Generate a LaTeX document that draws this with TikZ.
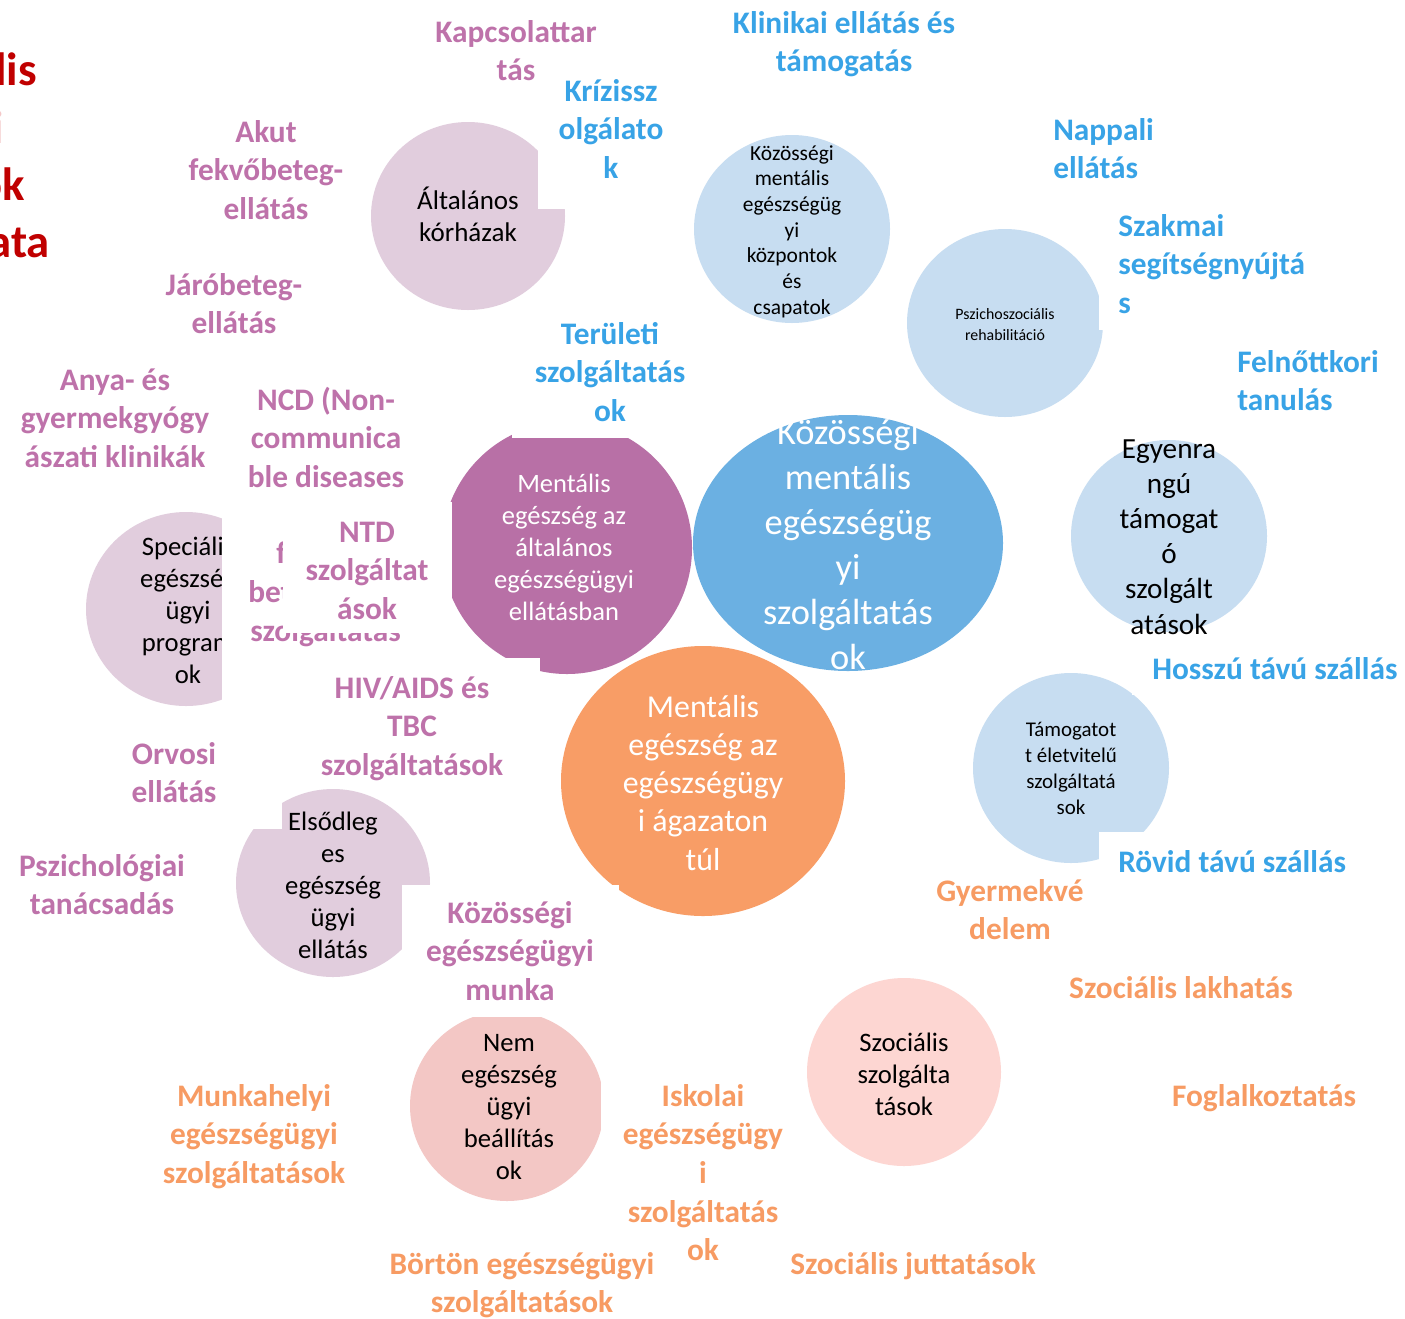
\documentclass[tikz,border=0pt]{standalone}
\usepackage{fontspec}
\setmainfont{Carlito}
\usetikzlibrary{shapes.geometric}

\definecolor{mauve}{RGB}{225,205,221}
\definecolor{paleblue}{RGB}{199,221,241}
\definecolor{plum}{RGB}{184,112,166}
\definecolor{skyblue}{RGB}{107,176,226}
\definecolor{apricot}{RGB}{248,157,102}
\definecolor{rosy}{RGB}{243,199,197}
\definecolor{blush}{RGB}{253,214,210}
\definecolor{txtplum}{RGB}{190,114,170}
\definecolor{txtblue}{RGB}{56,163,230}
\definecolor{txtorange}{RGB}{247,155,99}
\definecolor{deepred}{RGB}{192,0,0}
\definecolor{palered}{RGB}{244,200,200}

% centred / left-aligned stacks whose baseline is the first line
\newcommand{\cstack}[1]{\begin{tabular}[t]{@{}c@{}}#1\end{tabular}}
\newcommand{\lstack}[1]{\begin{tabular}[t]{@{}l@{}}#1\end{tabular}}

\tikzset{
  blob/.style 2 args={ellipse, draw=none, inner sep=0pt,
    minimum width=#1*1.5pt, minimum height=#2*1.5pt},
  tag/.style={inner sep=0pt, anchor=base,
    font=\bfseries\fontsize{23.5pt}{29pt}\selectfont},
  tagP/.style={tag, text=txtplum},
  tagB/.style={tag, text=txtblue},
  tagO/.style={tag, text=txtorange},
  inside/.style 2 args={inner sep=0pt, anchor=base,
    font=\fontsize{#1}{#2}\selectfont},
  backing/.style={fill=white},
  title/.style={anchor=base east, inner sep=0pt,
    font=\bfseries\fontsize{35pt}{43pt}\selectfont},
}

\begin{document}
\begin{tikzpicture}[x=0.75pt,y=-0.75pt]
\fill[white] (0,0) rectangle (1405,1318);
\useasboundingbox (0,0) rectangle (1405,1318);

% ---- title fragment at the left edge
\begin{scope}
  \clip (0,0) rectangle (120,300);
  \node[title, text=deepred] (tA) at (37,85)  {lis};
  \node[title, text=palered] (tB) at (4,143)  {i};
  \node[title, text=deepred] (tC) at (25,200) {ok};
  \node[title, text=deepred] (tD) at (50,257) {ata};
\end{scope}

% ---- discs
\node[blob={97}{94},  fill=mauve]    (hosp)      at (468,216)  {};
\node[blob={98}{94},  fill=paleblue] (cmhc)      at (792,229)  {};
\node[blob={98}{94},  fill=paleblue] (psyrehab)  at (1005,323) {};
\node[blob={98}{96},  fill=paleblue] (peer)      at (1169,536) {};
\node[blob={98}{95},  fill=paleblue] (living)    at (1071,768) {};
\node[blob={100}{97}, fill=mauve]    (special)   at (186,609)  {};
\node[blob={97}{94},  fill=mauve]    (primary)   at (333,883)  {};
\node[blob={97}{95},  fill=rosy]     (nonhealth) at (507,1106) {};
\node[blob={97}{94},  fill=blush]    (social)    at (904,1072) {};
\node[blob={125}{126},fill=plum]     (general)   at (567,548)  {};
\node[blob={155}{128},fill=skyblue]  (community) at (848,543)  {};
\node[blob={142}{135},fill=apricot]  (beyond)    at (703,781)  {};

% ---- disc texts
\node[inside={20.25pt}{24pt}] (hospT) at (468,209) {\cstack{Általános\\kórházak}};
\node[inside={16.1pt}{19.3pt}] (cmhcT) at (792,160)
  {\cstack{Közösségi\\mentális\\egészségüg\\yi\\központok\\és\\csapatok}};
\node[inside={11.9pt}{15.75pt}] (psyrehabT) at (1005,319)
  {\cstack{Pszichoszociális\\rehabilitáció}};
\node[inside={21.9pt}{26.4pt}] (peerT) at (1169,458)
  {\cstack{Egyenra\\ngú\\támogat\\ó\\szolgált\\atások}};
\node[inside={15.7pt}{19.5pt}] (livingT) at (1071,736)
  {\cstack{Támogatot\\t életvitelű\\szolgáltatá\\sok}};
\node[inside={20pt}{24pt}] (specialT) at (188,555)
  {\cstack{Speciális\\egészség\\ügyi\\program\\ok}};
\node[inside={20pt}{24pt}] (primaryT) at (333,830)
  {\cstack{Elsődleg\\es\\egészség\\ügyi\\ellátás}};
\node[inside={20pt}{24pt}] (nonhealthT) at (509,1051)
  {\cstack{Nem\\egészség\\ügyi\\beállítás\\ok}};
\node[inside={20pt}{24pt}] (socialT) at (904,1051)
  {\cstack{Szociális\\szolgálta\\tások}};
\node[inside={19.9pt}{24pt}, text=white] (generalT) at (564,492)
  {\cstack{Mentális\\egészség az\\általános\\egészségügyi\\ellátásban}};
\node[inside={27.3pt}{33.75pt}, text=white] (communityT) at (848,444)
  {\cstack{Közösségi\\mentális\\egészségüg\\yi\\szolgáltatás\\ok}};
\node[inside={23.9pt}{28.7pt}, text=white] (beyondT) at (703,717)
  {\cstack{Mentális\\egészség az\\egészségügy\\i ágazaton\\túl}};

% ---- a label mostly hidden behind the NTD box
\path[backing] (222,500) rectangle (432,712);
\node[tagP, anchor=base west] (infA) at (276,563) {f};
\node[tagP, anchor=base west] (infB) at (248,602) {bet};
\node[tagP, anchor=base west] (infC) at (250,641) {szolgáltatás};

% ---- white text-box backgrounds
\path[backing] (538,74)   rectangle (684,209);   % Krízisszolgálatok
\path[backing] (512,318)  rectangle (708,438);   % Területi
\path[backing] (1099,205) rectangle (1320,330);  % Szakmai
\path[backing] (283,502)  rectangle (452,633);   % NTD
\path[backing] (284,658)  rectangle (540,785);   % HIV/AIDS
\path[backing] (66,730)   rectangle (282,829);   % Orvosi
\path[backing] (402,885)  rectangle (619,1017);  % Közösségi munka
\path[backing] (601,1075) rectangle (805,1240);  % Iskolai
\path[backing] (1132,645) rectangle (1405,695);  % Hosszú távú
\path[backing] (1099,832) rectangle (1360,890);  % Rövid távú

% ---- labels: health sector (plum)
\node[tagP] (kapcs)  at (516,42)  {\cstack{Kapcsolattar\\tás}};
\node[tagP] (akut)   at (266,142) {\cstack{Akut\\fekvőbeteg-\\ellátás}};
\node[tagP] (jaro)   at (234,295) {\cstack{Járóbeteg-\\ellátás}};
\node[tagP] (anya)   at (115,390) {\cstack{Anya- és\\gyermekgyógy\\ászati klinikák}};
\node[tagP] (ncd)    at (326,410) {\cstack{NCD (Non-\\communica\\ble diseases}};
\node[tagP] (ntd)    at (367,542) {\cstack{NTD\\szolgáltat\\ások}};
\node[tagP] (hiv)    at (412,698) {\cstack{HIV/AIDS és\\TBC\\szolgáltatások}};
\node[tagP] (orvosi) at (174,764) {\cstack{Orvosi\\ellátás}};
\node[tagP] (pszich) at (102,876) {\cstack{Pszichológiai\\tanácsadás}};
\node[tagP] (kozm)   at (510,923) {\cstack{Közösségi\\egészségügyi\\munka}};

% ---- labels: community services (blue)
\node[tagB] (klin)   at (844,33)  {\cstack{Klinikai ellátás és\\támogatás}};
\node[tagB] (kriz)   at (611,101) {\cstack{Krízissz\\olgálato\\k}};
\node[tagB, anchor=base west] (napp)  at (1053,140) {\lstack{Nappali\\ellátás}};
\node[tagB, anchor=base west] (szakm) at (1118,236) {\lstack{Szakmai\\segítségnyújtá\\s}};
\node[tagB] (terul)  at (610,344) {\cstack{Területi\\szolgáltatás\\ok}};
\node[tagB, anchor=base west] (felno) at (1237,372) {\lstack{Felnőttkori\\tanulás}};
\node[tagB, anchor=base west] (hossz) at (1152,679) {Hosszú távú szállás};
\node[tagB, anchor=base west] (rovid) at (1118,872) {Rövid távú szállás};

% ---- labels: beyond the health sector (orange)
\node[tagO] (gyerm)  at (1010,901)  {\cstack{Gyermekvé\\delem}};
\node[tagO] (lakh)   at (1181,998)  {Szociális lakhatás};
\node[tagO] (fogl)   at (1264,1106) {Foglalkoztatás};
\node[tagO] (munkah) at (254,1106)  {\cstack{Munkahelyi\\egészségügyi\\szolgáltatások}};
\node[tagO] (iskol)  at (703,1106)  {\cstack{Iskolai\\egészségügy\\i\\szolgáltatás\\ok}};
\node[tagO] (bort)   at (522,1274)  {\cstack{Börtön egészségügyi\\szolgáltatások}};
\node[tagO] (jutt)   at (913,1274)  {Szociális juttatások};
\end{tikzpicture}
\end{document}
